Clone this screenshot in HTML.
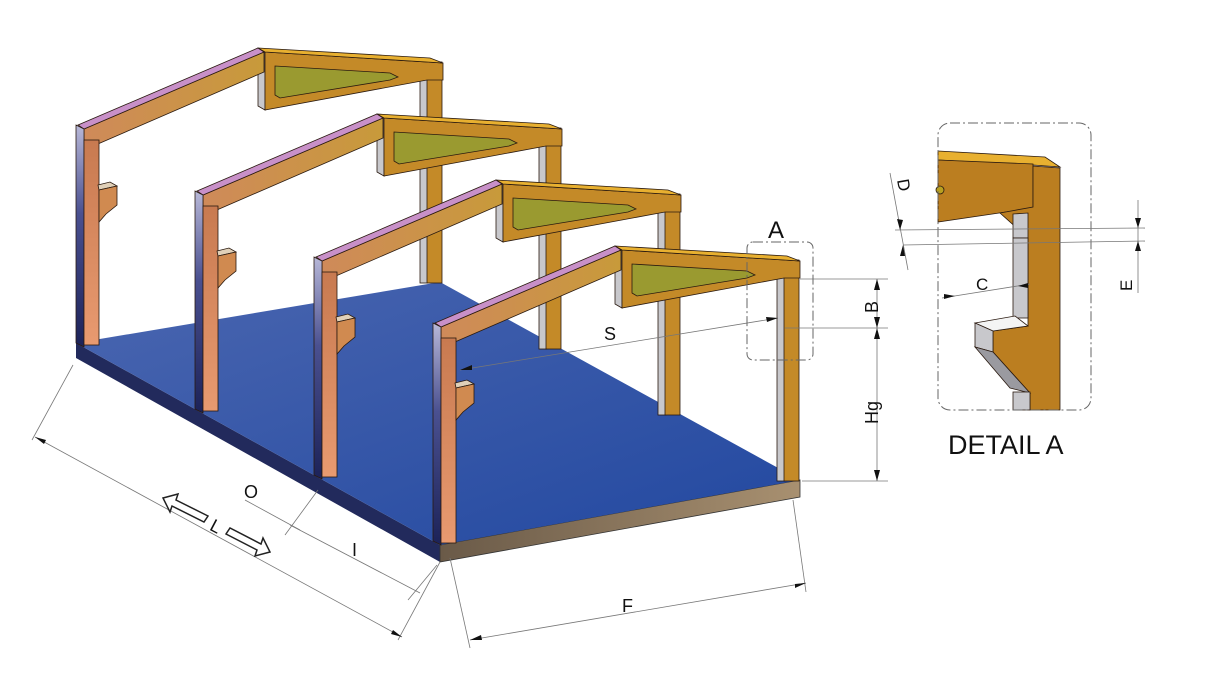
<!DOCTYPE html>
<html><head><meta charset="utf-8"><style>
html,body{margin:0;padding:0;background:#fff;}
svg{display:block;font-family:"Liberation Sans",sans-serif;}
</style></head><body>
<svg width="1205" height="682" viewBox="0 0 1205 682" xmlns="http://www.w3.org/2000/svg">
<defs>
<linearGradient id="floor" x1="0" y1="0" x2="1" y2="1">
<stop offset="0" stop-color="#4a66b0"/><stop offset="1" stop-color="#2248a0"/></linearGradient>
<linearGradient id="dark" x1="0" y1="0" x2="0" y2="1">
<stop offset="0" stop-color="#b8b8d8"/><stop offset="0.4" stop-color="#4a5090"/><stop offset="1" stop-color="#1c2258"/></linearGradient>
<linearGradient id="post" x1="0" y1="0" x2="0" y2="1">
<stop offset="0" stop-color="#c87a50"/><stop offset="1" stop-color="#e89a70"/></linearGradient>
<linearGradient id="raf" x1="0" y1="0" x2="1" y2="0">
<stop offset="0" stop-color="#cf8a5a"/><stop offset="1" stop-color="#c89a3a"/></linearGradient>
<linearGradient id="edge" x1="0" y1="0" x2="1" y2="0">
<stop offset="0" stop-color="#6a5a48"/><stop offset="1" stop-color="#a89070"/></linearGradient>
<g id="frame" stroke="#2a1a10" stroke-width="0.8">
  <rect x="420" y="78" width="8" height="205" fill="#c8c8cc"/>
  <rect x="427" y="62" width="15" height="221" fill="#c48a28"/>
  <polygon points="258,48 265,52 265,110 258,106" fill="#c8c8cc"/>
  <polygon points="265,52 443,63 443,80 427,80 265,110" fill="#c48a28"/>
  <polygon points="258,48 430,58 443,63 265,52" fill="#e8b030"/>
  <polygon points="275,66 390,73 398,77 390,80 280,98 275,95" fill="#9a9a30"/>
  <polygon points="84,129 264,52 264,72 84,150" fill="url(#raf)"/>
  <polygon points="78,125 258,48 264,52 84,129" fill="#c890c8"/>
  <polygon points="76,125 84,129 84,347 76,343" fill="url(#dark)"/>
  <rect x="84" y="140" width="15" height="205" fill="url(#post)"/>
  <polygon points="98,185 110,182 117,186 99,190" fill="#e0d0b8"/>
  <polygon points="99,190 117,186 117,205 106,214 99,222" fill="#d08a50"/>
</g>
</defs>
<polygon points="76,343 440,545 440,562 76,358" fill="#222a5c"/>
<polygon points="440,545 800,480 800,497 440,562" fill="url(#edge)" stroke="#333" stroke-width="0.8"/>
<polygon points="76,343 440,282 800,480 440,545" fill="url(#floor)"/>
<use href="#frame"/>
<use href="#frame" transform="translate(119,66)"/>
<use href="#frame" transform="translate(238,132)"/>
<use href="#frame" transform="translate(357,198)"/>
<g stroke="#777" stroke-width="0.8" fill="none">
<line x1="73" y1="365" x2="32" y2="440"/><line x1="35" y1="437" x2="402" y2="637"/>
<line x1="440" y1="562" x2="398" y2="640"/>
<line x1="318" y1="490" x2="285" y2="535"/><line x1="245" y1="500" x2="300" y2="530"/>
<line x1="290" y1="525" x2="420" y2="593"/><line x1="437" y1="565" x2="408" y2="600"/>
<line x1="450" y1="558" x2="470" y2="648"/><line x1="793" y1="500" x2="806" y2="592"/>
<line x1="470" y1="640" x2="806" y2="583"/>
<line x1="800" y1="279" x2="888" y2="279"/><line x1="785" y1="328" x2="888" y2="328"/>
<line x1="802" y1="481" x2="888" y2="481"/>
<line x1="877" y1="279" x2="877" y2="481"/>
<line x1="460" y1="370" x2="778" y2="318"/>
</g>
<g fill="#111">
<polygon points="877,279 874,290 880,290"/><polygon points="877,328 874,317 880,317"/>
<polygon points="877,328 874,339 880,339"/><polygon points="877,481 874,470 880,470"/>
<polygon points="460,370 472,365 472,370"/><polygon points="778,318 766,317 767,322"/>
<polygon points="35,437 46,440 44,444"/><polygon points="402,637 391,634 393,630"/>
<polygon points="470,640 481,635 482,640"/><polygon points="806,583 795,584 795,588"/>
</g>
<g fill="#fff" stroke="#222" stroke-width="1.5">
<polygon points="163,498 178,494 176,500 208,516 204,522 172,506 170,512"/>
<polygon points="270,552 255,556 257,550 226,534 230,528 261,544 263,538"/>
</g>
<g font-size="18" fill="#111">
<text x="244" y="498">O</text><text x="352" y="556">I</text>
<text x="211" y="532" transform="rotate(28 215 526)">L</text>
<text x="604" y="340">S</text><text x="622" y="612">F</text>
<text transform="translate(878,313) rotate(-90)">B</text>
<text transform="translate(878,424) rotate(-90)">Hg</text>
<text x="768" y="238" font-size="24">A</text>
<text x="948" y="454" font-size="27">DETAIL A</text>
</g>
<rect x="747" y="242" width="66" height="118" rx="6" fill="none" stroke="#666" stroke-width="1" stroke-dasharray="10,3,2,3"/>
<g stroke="#2a1a10" stroke-width="0.8">
<polygon points="938,151 1045,157 1060,167 1033,165 938,160" fill="#e8b030"/>
<polygon points="938,160 1033,164 1033,208 938,222" fill="#bb7e20"/>
<polygon points="1000,213 1033,207 1033,166 1060,168 1060,410 1030,410 1030,393 993,352 993,331 1028,326 1028,238" fill="#bb7e20"/>
<polygon points="1013,214 1028,213 1028,238 1013,238" fill="#c8c8cc"/>
<rect x="1013" y="238" width="15" height="80" fill="#c8c8cc"/>
<polygon points="975,323 1015,316 1028,326 993,331" fill="#f4f4f4"/>
<polygon points="975,323 993,331 993,352 975,347" fill="#c8c8cc"/>
<polygon points="975,347 993,352 1030,393 1010,388" fill="#9a9aa0"/>
<rect x="1013" y="392" width="17" height="18" fill="#c8c8cc"/>
<circle cx="940" cy="190" r="4" fill="#b8a020"/>
</g>
<rect x="938" y="123" width="153" height="287" rx="12" fill="none" stroke="#666" stroke-width="1" stroke-dasharray="10,3,2,3"/>
<g stroke="#777" stroke-width="0.8" fill="none">
<line x1="895" y1="230" x2="1145" y2="228"/><line x1="903" y1="245" x2="1145" y2="241"/>
<line x1="890" y1="173" x2="908" y2="270"/>
<line x1="942" y1="298" x2="1030" y2="284"/><line x1="1138" y1="200" x2="1138" y2="293"/>
</g>
<g fill="#111">
<polygon points="1138,228 1135,218 1141,218"/><polygon points="1138,241 1135,251 1141,251"/>
<polygon points="900,230 897,219 903,220"/><polygon points="903,245 905,256 900,256"/>
<polygon points="955,296 944,299 944,294"/><polygon points="1018,286 1028,283 1028,288"/>
</g>
<g font-size="17" fill="#111">
<text transform="translate(897,180) rotate(80)">D</text>
<text x="976" y="290">C</text>
<text transform="translate(1132,291) rotate(-90)">E</text>
</g>
</svg>
</body></html>
